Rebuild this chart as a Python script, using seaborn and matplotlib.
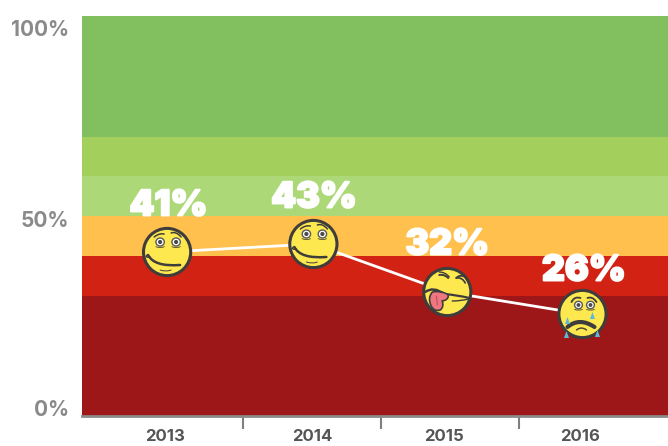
import numpy as np
import pandas as pd
import seaborn as sns
import matplotlib
matplotlib.use("Agg")
import matplotlib.pyplot as plt
import matplotlib.patheffects as pe
from matplotlib.patches import Circle, Ellipse, Polygon, PathPatch
from matplotlib.path import Path
from matplotlib.transforms import Affine2D

years = ["2013", "2014", "2015", "2016"]
values = [41, 43, 31, 25.5]
value_labels = ["41%", "43%", "32%", "26%"]
point_pos = [-0.05, 1.01, 1.98, 2.96]
label_pos = [-0.04, 1.015, 1.98, 2.97]
year_pos = [-0.065, 1.0, 1.96, 2.94]
label_lift = [46, 46, 47, 43]
faces = ["worried", "worried", "tongue", "crying"]
band_edges = [0, 30, 40, 50, 60, 69.75, 100]
band_colors = ["#9E1718", "#D22214", "#FFC04D", "#ADD878", "#A3CF5C", "#82BF5E"]
y_ticks = [0, 50, 100]
y_labels = ["0%", "50%", "100%"]
y_offsets = [8, -3, -12]
boundaries = [0.5, 1.5, 2.5]

sns.set_style("white")
plt.rcParams["font.family"] = ["Inter", "DejaVu Sans"]

W, H = 668, 446
fig = plt.figure(figsize=(W / 100, H / 100), dpi=100)
ax = fig.add_axes([82 / W, (H - 416) / H, (668 - 82) / W, 400 / H])
ax.set_xlim((82 - 174) / 138, (668 - 174) / 138)
ax.set_ylim(0, 100)

for lo, hi, c in zip(band_edges[:-1], band_edges[1:], band_colors):
    ax.axhspan(lo, hi, color=c, lw=0, zorder=0)

df = pd.DataFrame({"x": point_pos, "y": values})
sns.lineplot(data=df, x="x", y="y", color="white", lw=2.0, ax=ax, zorder=2, errorbar=None, sort=False)
ax.set_xlabel("")
ax.set_ylabel("")

for s in ["top", "right", "left"]:
    ax.spines[s].set_visible(False)
ax.spines["bottom"].set_color("#8A8A8A")
ax.spines["bottom"].set_linewidth(2)
ax.spines["bottom"].set_zorder(5)

ax.set_xticks(boundaries)
ax.set_xticklabels([""] * 3)
ax.tick_params(axis="x", which="major", length=9, width=1.5, color="#7F7F7F", bottom=True)
ax.set_xticks(year_pos, minor=True)
ax.set_xticklabels(years, minor=True, fontsize=12, fontweight="bold", color="#555555")
ax.tick_params(axis="x", which="minor", length=0, pad=9.5, bottom=False)

ax.set_yticks(y_ticks)
ax.set_yticklabels(y_labels, fontsize=15, fontweight="bold", color="#8A8A8A")
ax.tick_params(axis="y", length=0, pad=9)
for lab, off in zip(ax.get_yticklabels(), y_offsets):
    lab.set_transform(lab.get_transform() + Affine2D().translate(0, off))

for x, v, t, lift in zip(label_pos, values, value_labels, label_lift):
    ax.annotate(t, xy=(x, v), xytext=(0, lift), textcoords="offset pixels", ha="center", va="center",
                fontsize=25.5, fontweight="black", color="white", zorder=6,
                path_effects=[pe.withStroke(linewidth=1.4, foreground="white")])

INK = "#3F3D3B"
YEL = "#FDE84F"


def stroke(a, tr, pts, lw=1.2, col=INK, fill=None, z=8):
    verts = [pts[0]]
    codes = [Path.MOVETO]
    for p in pts[1:]:
        verts.append(p)
        codes.append(Path.CURVE3)
    if (len(verts) - 1) % 2:
        verts.append(pts[-1])
        codes.append(Path.LINETO)
    a.add_patch(PathPatch(Path(verts, codes), transform=tr, fc=fill or "none", ec=col, lw=lw, zorder=z,
                          clip_on=False, capstyle="round"))


def eye(a, tr, x, y, r=4.2):
    a.add_patch(Ellipse((x, y), 2 * r, 2 * r * 0.95, fc="white", ec="#5A5A5A", lw=1.0, transform=tr, zorder=8))
    a.add_patch(Circle((x, y), r * 0.5, fc="#4A4A4A", ec="none", transform=tr, zorder=9))
    stroke(a, tr, [(x - r, y - r - 0.5), (x, y - r - 2.2), (x + r, y - r - 0.5)], lw=0.6)


def draw_face(a, cx, cy, kind):
    tr = Affine2D().translate(cx, cy)
    a.add_patch(Circle((0, 0), 23.6, fc=YEL, ec=INK, lw=2.2, transform=tr, zorder=7))
    if kind == "worried":
        eye(a, tr, -7, 10)
        eye(a, tr, 9, 10)
        stroke(a, tr, [(-13, 15), (-8, 19), (-3, 18)], lw=1.1)
        stroke(a, tr, [(4, 19), (9, 21), (14, 15)], lw=1.1)
        stroke(a, tr, [(-19, -3), (-13, -15), (13, -13)], lw=1.8)
        stroke(a, tr, [(-20, -3), (-23, -6), (-17, -5)], lw=1.0)
        stroke(a, tr, [(-7, -18), (-1, -20), (4, -18)], lw=0.7)
    elif kind == "tongue":
        stroke(a, tr, [(-8, 17), (-3, 18), (1, 14)], lw=1.4)
        stroke(a, tr, [(-8, 20), (-2, 20), (2, 15)], lw=1.0)
        stroke(a, tr, [(9, 14), (13, 18), (18, 15)], lw=1.4)
        stroke(a, tr, [(9, 14), (15, 15), (18, 9)], lw=1.2)
        stroke(a, tr, [(-22, 0), (-14, 6), (-3, -2)], lw=1.8)
        stroke(a, tr, [(-3, -2), (10, -3), (22, -6)], lw=1.6)
        stroke(a, tr, [(5, -9), (14, -9), (21, -7)], lw=1.0)
        tv = [(-15, 0), (-20, -6), (-16, -14), (-13, -20), (-7, -18), (-3, -15), (-5, -9),
              (1, -8), (1, -4), (1, -1), (-7, 0), (-11, 1), (-15, 0)]
        tc = [Path.MOVETO] + [Path.CURVE3] * 12
        a.add_patch(PathPatch(Path(tv, tc), fc="#EE7782", ec=INK, lw=1.2, transform=tr, zorder=8))
        stroke(a, tr, [(-11, -4), (-10, -8), (-10, -13)], lw=0.7, col="#B84A55", z=9)
    else:
        eye(a, tr, -4, 9, 3.9)
        eye(a, tr, 8, 9, 3.9)
        stroke(a, tr, [(-11, 12), (-8, 18), (-2, 16)], lw=1.3)
        stroke(a, tr, [(5, 16), (10, 18), (14, 12)], lw=1.3)
        stroke(a, tr, [(-15, -13), (-3, -3), (12, -13)], lw=3.0)
        stroke(a, tr, [(-6, -16), (-1, -12), (4, -16)], lw=1.0)
        for dx, dy in [(-15, -7), (10, -2), (-16, -21), (15, -20)]:
            a.add_patch(Polygon([(dx, dy + 4), (dx - 2.5, dy - 3), (dx + 2.5, dy - 3)], closed=True, fc="#5BB9D9",
                                ec="none", transform=tr, zorder=9))


fig.canvas.draw()
for x, v, k in zip(point_pos, values, faces):
    cx, cy = ax.transData.transform((x, v))
    draw_face(ax, cx, cy, k)

fig.savefig("out.png", dpi=100)
